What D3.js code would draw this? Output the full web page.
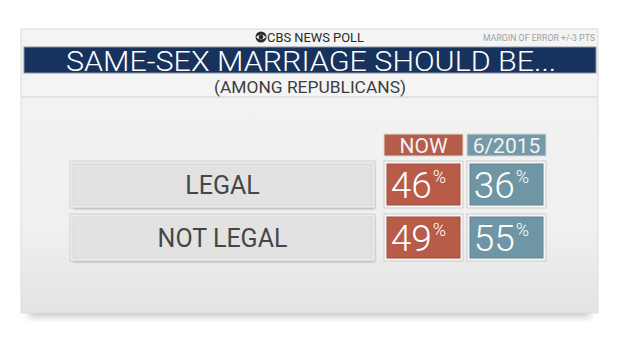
<!DOCTYPE html>
<html>
<head>
<meta charset="utf-8">
<script src="https://cdn.jsdelivr.net/npm/d3@7"></script>
<style>
  body { margin: 0; background: #fff; }
  svg text { font-family: Roboto, "Open Sans", sans-serif; }
</style>
</head>
<body>
<svg id="chart" width="620" height="349"></svg>
<script>
// poll data
const categories = ["LEGAL", "NOT LEGAL"];
const columns = ["NOW", "6/2015"];
const nowValues = [46, 49];
const pastValues = [36, 55];
const colColors = {"NOW": "#b85b49", "6/2015": "#6f96a5"};
const headColors = {"NOW": "#b65c4b", "6/2015": "#7499a7"};

const title = "SAME-SEX MARRIAGE SHOULD BE...";
const subtitle = "(AMONG REPUBLICANS)";
const brand = "CBS NEWS POLL";
const moe = "MARGIN OF ERROR +/-3 PTS";

const rows = categories.map((c, i) => ({cat: c, "NOW": nowValues[i], "6/2015": pastValues[i]}));

const svg = d3.select('#chart');
const defs = svg.append('defs');

const cardGrad = defs.append('linearGradient').attr('id', 'cardGrad')
    .attr('x1', 0).attr('y1', 0).attr('x2', 0).attr('y2', 1);
cardGrad.append('stop').attr('offset', '0%').attr('stop-color', '#f3f3f3');
cardGrad.append('stop').attr('offset', '70%').attr('stop-color', '#f0f0f0');
cardGrad.append('stop').attr('offset', '100%').attr('stop-color', '#e3e3e3');

const blur = defs.append('filter').attr('id', 'shadow')
    .attr('x', '-10%').attr('y', '-10%').attr('width', '120%').attr('height', '140%');
blur.append('feGaussianBlur').attr('stdDeviation', 3.5);

defs.append('filter').attr('id', 'boxShadow')
    .append('feGaussianBlur').attr('stdDeviation', 1);

// card
const card = {x: 21, y: 29, w: 577, h: 284};
svg.append('rect')
    .attr('x', card.x + 8).attr('y', card.y + card.h - 10)
    .attr('width', card.w - 16).attr('height', 14)
    .attr('fill', '#c8c8c8').attr('filter', 'url(#shadow)');
svg.append('rect')
    .attr('x', card.x).attr('y', card.y).attr('width', card.w).attr('height', card.h)
    .attr('fill', 'url(#cardGrad)').attr('stroke', '#dcdcdc');

// header area
svg.append('rect')
    .attr('x', card.x + 1).attr('y', card.y + 1).attr('width', card.w - 2).attr('height', 67)
    .attr('fill', '#f4f4f4');
svg.append('line')
    .attr('x1', card.x + 1).attr('x2', card.x + card.w - 1)
    .attr('y1', 97).attr('y2', 97)
    .attr('stroke', '#cfcfcf').attr('stroke-width', 1.2);

// brand line
const logo = svg.append('g').attr('transform', 'translate(261, 37)');
logo.append('circle').attr('r', 5.5).attr('fill', '#2a2a2a');
logo.append('path')
    .attr('d', 'M -5,0 Q 0,-5 5,0 Q 0,5 -5,0 Z')
    .attr('fill', '#f4f4f4');
logo.append('circle').attr('r', 2.3).attr('fill', '#2a2a2a');

svg.append('text')
    .attr('x', 267).attr('y', 42)
    .attr('font-size', 13).attr('fill', '#2a2a2a')
    .attr('textLength', 97).attr('lengthAdjust', 'spacingAndGlyphs')
    .text(brand);

svg.append('text')
    .attr('x', 595).attr('y', 41)
    .attr('text-anchor', 'end')
    .attr('font-size', 9).attr('fill', '#a0a0a0')
    .attr('textLength', 112).attr('lengthAdjust', 'spacingAndGlyphs')
    .text(moe);

// title bar
svg.append('rect')
    .attr('x', 24).attr('y', 47).attr('width', 572).attr('height', 26)
    .attr('fill', '#17335d').attr('stroke', '#8a96a8').attr('stroke-width', 1);
svg.append('text')
    .attr('x', 66).attr('y', 71)
    .attr('font-size', 27).attr('font-weight', 300).attr('fill', '#ffffff')
    .attr('textLength', 490).attr('lengthAdjust', 'spacingAndGlyphs')
    .text(title);

svg.append('text')
    .attr('x', 310).attr('y', 93)
    .attr('text-anchor', 'middle')
    .attr('font-size', 17).attr('fill', '#3e3e3e')
    .attr('textLength', 192).attr('lengthAdjust', 'spacingAndGlyphs')
    .text(subtitle);

// scales
const yScale = d3.scaleBand()
    .domain(categories)
    .range([161, 261])
    .paddingInner(6 / 53);

const xScale = d3.scaleBand()
    .domain(columns)
    .range([384, 546])
    .paddingInner(4 / 83);

const labelX = 70, labelW = 305;

// column headers
const heads = svg.selectAll('.head')
    .data(columns)
    .join('g')
    .classed('head', true)
    .attr('transform', d => `translate(${xScale(d)}, 134)`);
heads.append('rect')
    .attr('width', xScale.bandwidth()).attr('height', 22)
    .attr('fill', d => headColors[d]).attr('stroke', '#d9d9d9');
heads.append('text')
    .attr('x', xScale.bandwidth() / 2).attr('y', 19)
    .attr('text-anchor', 'middle')
    .attr('font-size', 21).attr('fill', '#f2f2f2')
    .text(d => d);

// row labels
const rowG = svg.selectAll('.row')
    .data(rows)
    .join('g')
    .classed('row', true)
    .attr('transform', d => `translate(0, ${yScale(d.cat)})`);

rowG.append('rect')
    .attr('x', labelX + 3).attr('y', 4)
    .attr('width', labelW - 3).attr('height', yScale.bandwidth() - 3)
    .attr('fill', '#a8a8a8').attr('filter', 'url(#boxShadow)');
rowG.append('rect')
    .attr('x', labelX).attr('y', 0)
    .attr('width', labelW).attr('height', yScale.bandwidth())
    .attr('fill', '#ececec').attr('stroke', '#d0d0d0');
rowG.append('rect')
    .attr('x', labelX + 3).attr('y', 3)
    .attr('width', labelW - 6).attr('height', yScale.bandwidth() - 6)
    .attr('fill', '#e2e2e2').attr('stroke', '#d8d8d8');
rowG.append('text')
    .attr('x', labelX + labelW / 2).attr('y', yScale.bandwidth() / 2 + 9)
    .attr('text-anchor', 'middle')
    .attr('font-size', 25).attr('fill', '#464646')
    .text(d => d.cat);

// value cells
const cells = rowG.selectAll('.cell')
    .data(d => columns.map(c => ({col: c, value: d[c]})))
    .join('g')
    .classed('cell', true)
    .attr('transform', d => `translate(${xScale(d.col)}, 0)`);

cells.append('rect')
    .attr('width', xScale.bandwidth()).attr('height', yScale.bandwidth())
    .attr('fill', '#f6f6f6').attr('stroke', '#cccccc');
cells.append('rect')
    .attr('x', 3).attr('y', 3)
    .attr('width', xScale.bandwidth() - 6).attr('height', yScale.bandwidth() - 6)
    .attr('fill', d => colColors[d.col])
    .attr('stroke', d => d3.color(colColors[d.col]).darker(0.4));

const valText = cells.append('text')
    .attr('x', xScale.bandwidth() / 2 - 5).attr('y', yScale.bandwidth() / 2 + 13)
    .attr('text-anchor', 'middle')
    .attr('fill', '#ffffff');
valText.append('tspan')
    .attr('font-size', 37).attr('font-weight', 300)
    .text(d => d.value);
valText.append('tspan')
    .attr('font-size', 18).attr('font-weight', 300)
    .attr('dx', 1).attr('dy', -15)
    .text('%');
</script>
</body>
</html>
